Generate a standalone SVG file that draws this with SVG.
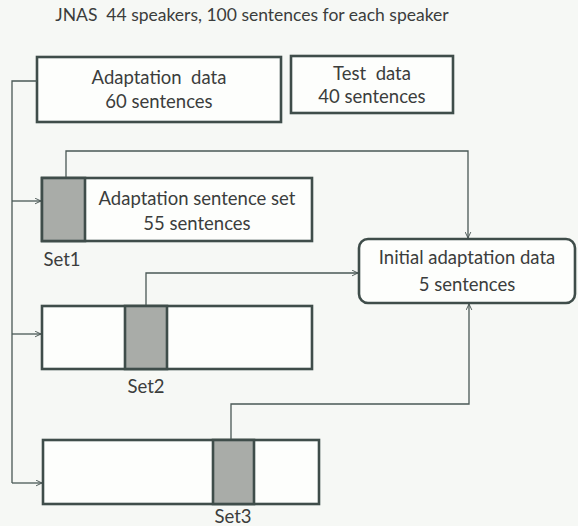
<svg xmlns="http://www.w3.org/2000/svg" width="578" height="526" viewBox="0 0 578 526">
<defs>
<marker id="arr" viewBox="0 0 10 10" refX="9.5" refY="5" markerWidth="7" markerHeight="7" orient="auto" markerUnits="userSpaceOnUse">
<path d="M1,1 L9.5,5 L1,9" fill="none" stroke="#44524f" stroke-width="1.3"/>
</marker>
</defs>
<style>
text{font-family:Lato,"Open Sans","Liberation Sans",sans-serif;fill:#3b3d3c;text-anchor:middle}
.t{font-size:17.5px}
.b{font-size:18.5px}
.box{fill:#fdfefc;stroke:#3f4d4a;stroke-width:2.6}
.g{fill:#a9aca8;stroke:#3f4d4a;stroke-width:2.6}
.c{fill:none;stroke:#4a5855;stroke-width:1.3}
</style>
<rect width="578" height="526" fill="#f6f8f5"/>
<text class="t" x="252" y="21" xml:space="preserve">JNAS  44 speakers, 100 sentences for each speaker</text>
<g id="adaptation">
<rect class="box" x="37" y="57" width="244" height="65"/>
<text class="b" x="159" y="84" xml:space="preserve">Adaptation  data</text>
<text class="b" x="159" y="108">60 sentences</text>
</g>
<g id="test">
<rect class="box" x="291" y="56" width="162" height="57"/>
<text class="b" x="372" y="80" xml:space="preserve">Test  data</text>
<text class="b" x="372" y="103">40 sentences</text>
</g>
<g id="set1">
<rect class="box" x="42" y="178" width="270" height="63"/>
<rect class="g" x="42" y="178" width="43" height="63"/>
<text class="b" x="197" y="205">Adaptation sentence set</text>
<text class="b" x="197" y="230">55 sentences</text>
<text class="b" x="62" y="266">Set1</text>
</g>
<g id="set2">
<rect class="box" x="42" y="306" width="270" height="63"/>
<rect class="g" x="125" y="306" width="42" height="63"/>
<text class="b" x="146" y="393">Set2</text>
</g>
<g id="set3">
<rect class="box" x="43" y="440" width="276" height="64"/>
<rect class="g" x="213" y="440" width="41" height="64"/>
<text class="b" x="233" y="523">Set3</text>
</g>
<g id="initial">
<rect class="box" x="359" y="239" width="216" height="64" rx="9"/>
<text class="b" x="467" y="264">Initial adaptation data</text>
<text class="b" x="467" y="291">5 sentences</text>
</g>
<g id="connectors">
<path class="c" d="M37,81 H12 V483"/>
<path class="c" d="M12,201 H41" marker-end="url(#arr)"/>
<path class="c" d="M12,334 H41" marker-end="url(#arr)"/>
<path class="c" d="M12,483 H42" marker-end="url(#arr)"/>
<path class="c" d="M66,177 V151 H468 V238" marker-end="url(#arr)"/>
<path class="c" d="M146,305 V273 H358" marker-end="url(#arr)"/>
<path class="c" d="M231,439 V404 H469 V304" marker-end="url(#arr)"/>
</g>
</svg>
